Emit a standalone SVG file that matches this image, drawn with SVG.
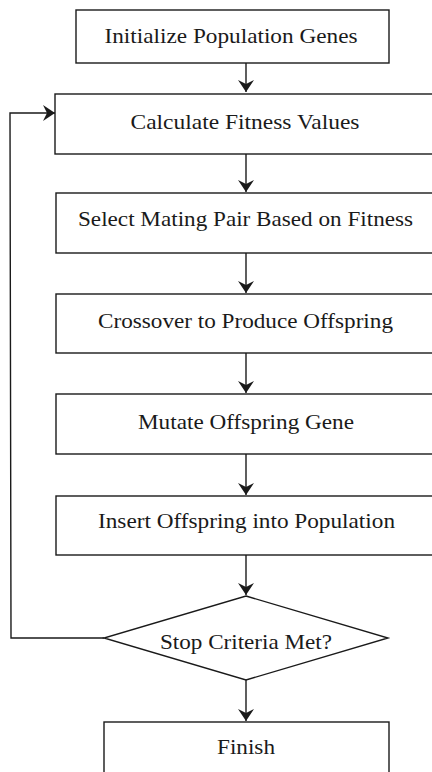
<svg xmlns="http://www.w3.org/2000/svg" width="432" height="772" viewBox="0 0 432 772">
<style>
.box{fill:#fff;stroke:#1a1a1a;stroke-width:1.4}
.lbl{font-family:"Liberation Serif","Times New Roman",serif;font-size:21px;fill:#1a1a1a;text-anchor:middle}
.edge{fill:none;stroke:#1a1a1a;stroke-width:1.4}
</style>
<defs>
<marker id="ah" viewBox="0 0 12 16" refX="12" refY="8" markerWidth="12" markerHeight="16" markerUnits="userSpaceOnUse" orient="auto">
<path d="M0,0 L12,8 L0,16 L4,8 z" fill="#1a1a1a"/>
</marker>
</defs>
<rect width="432" height="772" fill="#fff"/>
<g id="connectors">
<line class="edge" x1="246" y1="63" x2="246" y2="92" marker-end="url(#ah)"/>
<line class="edge" x1="246" y1="154" x2="246" y2="192" marker-end="url(#ah)"/>
<line class="edge" x1="246" y1="253" x2="246" y2="293" marker-end="url(#ah)"/>
<line class="edge" x1="246" y1="353" x2="246" y2="393" marker-end="url(#ah)"/>
<line class="edge" x1="246" y1="454" x2="246" y2="495" marker-end="url(#ah)"/>
<line class="edge" x1="246" y1="555" x2="246" y2="595" marker-end="url(#ah)"/>
<line class="edge" x1="246" y1="680" x2="246" y2="721" marker-end="url(#ah)"/>
<polyline class="edge" points="104,638 11,638 10,113 55,113" marker-end="url(#ah)"/>
</g>
<g id="n1"><rect class="box" x="76" y="10" width="313" height="53"/><text class="lbl" x="231" y="43" textLength="253" lengthAdjust="spacingAndGlyphs">Initialize Population Genes</text></g>
<g id="n2"><rect class="box" x="55" y="94" width="384" height="60"/><text class="lbl" x="245" y="129" textLength="229" lengthAdjust="spacingAndGlyphs">Calculate Fitness Values</text></g>
<g id="n3"><rect class="box" x="56" y="193" width="384" height="60"/><text class="lbl" x="245.5" y="226" textLength="335" lengthAdjust="spacingAndGlyphs">Select Mating Pair Based on Fitness</text></g>
<g id="n4"><rect class="box" x="56" y="294" width="384" height="59"/><text class="lbl" x="245.5" y="328" textLength="295" lengthAdjust="spacingAndGlyphs">Crossover to Produce Offspring</text></g>
<g id="n5"><rect class="box" x="56" y="394" width="384" height="60"/><text class="lbl" x="246" y="429" textLength="216" lengthAdjust="spacingAndGlyphs">Mutate Offspring Gene</text></g>
<g id="n6"><rect class="box" x="56" y="496" width="384" height="59"/><text class="lbl" x="246.5" y="528" textLength="297" lengthAdjust="spacingAndGlyphs">Insert Offspring into Population</text></g>
<g id="n7"><polygon class="box" points="246,596 388,638 246,680 104,638"/><text class="lbl" x="246" y="649" textLength="172" lengthAdjust="spacingAndGlyphs">Stop Criteria Met?</text></g>
<g id="n8"><rect class="box" x="104" y="722" width="285" height="60"/><text class="lbl" x="246" y="754" textLength="58" lengthAdjust="spacingAndGlyphs">Finish</text></g>
</svg>
